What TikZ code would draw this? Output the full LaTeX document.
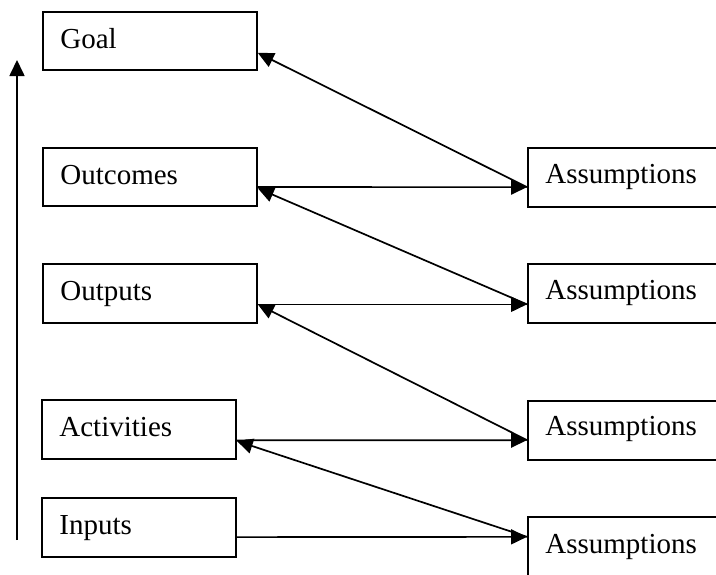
\documentclass[tikz,border=0pt]{standalone}
\usepackage{fontspec}
\setmainfont{Liberation Serif}
\usetikzlibrary{arrows.meta,calc}
\tikzset{
  box/.style={draw, line width=0.9pt, rectangle, anchor=north west, inner sep=0pt},
  leftbig/.style={box, minimum width=107pt, minimum height=29pt},
  leftsmall/.style={box, minimum width=97pt, minimum height=29.5pt},
  rightbox/.style={box, minimum width=105pt, minimum height=29.5pt},
  txt/.style={anchor=base west, inner sep=0pt, font=\fontsize{14.5}{17}\selectfont},
  arr/.style={line width=0.85pt, -{Triangle[length=8pt,width=7.5pt]}}
}
\begin{document}
\begin{tikzpicture}[x=0.5pt,y=-0.5pt]
\useasboundingbox (0,0) rectangle (716,574);
\clip (0,0) rectangle (716,574);
\fill[white] (0,0) rectangle (716,574);

% left column
\node[leftbig] (goal) at (42,11) {};
\node[leftbig] (outcomes) at (42,147) {};
\node[leftbig, minimum height=29.5pt] (outputs) at (42,263) {};
\node[leftsmall] (activities) at (41,399) {};
\node[leftsmall] (inputs) at (41,497) {};

% right column (boxes run past the right edge)
\node[rightbox] (as1) at (527,147) {};
\node[rightbox] (as2) at (527,263) {};
\node[rightbox] (as3) at (527,400) {};
\node[rightbox, minimum height=35pt] (as4) at (527,516) {};

% labels
\node[txt] (tgoal) at ($(goal.north west)+(18,37)$) {Goal};
\node[txt] (toutcomes) at ($(outcomes.north west)+(18,37)$) {Outcomes};
\node[txt] (toutputs) at ($(outputs.north west)+(18,37)$) {Outputs};
\node[txt] (tactivities) at ($(activities.north west)+(18,37)$) {Activities};
\node[txt] (tinputs) at ($(inputs.north west)+(18,37)$) {Inputs};
\node[txt] (tas1) at ($(as1.north west)+(18,36)$) {Assumptions};
\node[txt] (tas2) at ($(as2.north west)+(18,36)$) {Assumptions};
\node[txt] (tas3) at ($(as3.north west)+(18,35)$) {Assumptions};
\node[txt] (tas4) at ($(as4.north west)+(18,37)$) {Assumptions};

% connection points on the box edges
\coordinate (goalR) at ($(goal.north east)!0.7!(goal.south east)$);
\coordinate (outcomesR) at ($(outcomes.north east)!0.67!(outcomes.south east)$);
\coordinate (outcomesD) at ($(outcomes.north east)!0.69!(outcomes.south east)$);
\coordinate (outputsR) at ($(outputs.north east)!0.68!(outputs.south east)$);
\coordinate (activitiesR) at ($(activities.north east)!0.68!(activities.south east)$);
\coordinate (activitiesD) at ($(activities.north east)!0.69!(activities.south east)$);
\coordinate (inputsR) at ($(inputs.north east)!0.66!(inputs.south east)$);
\coordinate (as1L) at ($(as1.north west)!0.66!(as1.south west)$);
\coordinate (as2L) at ($(as2.north west)!0.68!(as2.south west)$);
\coordinate (as3L) at ($(as3.north west)!0.66!(as3.south west)$);
\coordinate (as4L) at ($(as4.north west)!0.29!(as4.south west)$);

% horizontal links
\draw[arr] (outcomesR) -- (as1L);
\draw[arr] (outputsR) -- (as2L);
\draw[arr] (activitiesR) -- (as3L);
\draw[arr] (inputsR) -- (as4L);

% diagonal links back to the level above
\draw[arr] (as1L) -- (goalR);
\draw[arr] (as2L) -- (outcomesD);
\draw[arr] (as3L) -- (outputsR);
\draw[arr] (as4L) -- (activitiesD);

% vertical direction arrow
\coordinate (vbot) at (17,540);
\coordinate (vtop) at (17,60);
\draw[arr] (vbot) -- (vtop);
\end{tikzpicture}
\end{document}
